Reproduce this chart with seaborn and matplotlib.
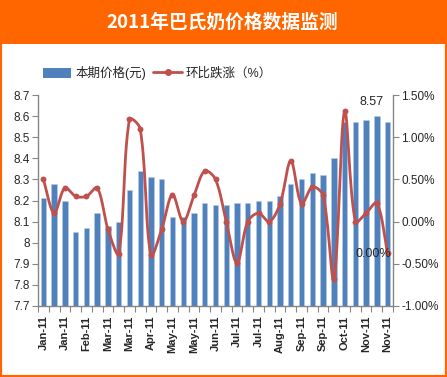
import numpy as np
import pandas as pd
import matplotlib.pyplot as plt
import seaborn as sns
from matplotlib.patches import Rectangle, Patch
from matplotlib.lines import Line2D

# weekly pasteurised milk price (yuan) and week-on-week change (%)
prices = [8.21, 8.28, 8.20, 8.05, 8.07, 8.14, 8.08, 8.10, 8.25, 8.34, 8.31,
          8.30, 8.12, 8.12, 8.14, 8.19, 8.18, 8.18, 8.19, 8.19, 8.20, 8.20,
          8.22, 8.28, 8.30, 8.33, 8.32, 8.40, 8.57, 8.57, 8.58, 8.60, 8.57]
changes = [0.50, 0.10, 0.40, 0.30, 0.30, 0.40, -0.09, -0.38, 1.21, 1.10, -0.40,
           -0.09, 0.32, 0.00, 0.31, 0.60, 0.50, 0.00, -0.49, 0.00, 0.10, 0.00,
           0.21, 0.72, 0.21, 0.41, 0.31, -0.68, 1.31, 0.00, 0.10, 0.22, -0.37]
tick_labels = ["Jan-11", "Jan-11", "Feb-11", "Mar-11", "Mar-11", "Apr-11",
               "May-11", "May-11", "Jun-11", "Jul-11", "Jul-11", "Aug-11",
               "Sep-11", "Sep-11", "Oct-11", "Nov-11", "Nov-11"]

sns.set_style("white")
plt.rcParams['font.family'] = ['Liberation Sans', 'Noto Sans CJK SC', 'DejaVu Sans']

orange = "#FF6600"
blue = "#4F81BD"
red = "#C0504D"
grey = "#868686"

n = len(prices)
idx = np.arange(n)
df = pd.DataFrame({"week": idx, "price": prices, "change": changes})

fig = plt.figure(figsize=(4.47, 3.77), dpi=100)
fig.patches.append(Rectangle((0, 0), 1, 1, transform=fig.transFigure,
                             fill=False, edgecolor=orange, linewidth=3, zorder=0))
fig.patches.append(Rectangle((0, 1 - 44 / 377), 1, 44 / 377, transform=fig.transFigure,
                             facecolor=orange, edgecolor="none", zorder=0))
fig.text(0.497, 1 - 22 / 377, "2011年巴氏奶价格数据监测", color="white", fontsize=13.5,
         fontweight="bold", ha="center", va="center",
         family=['Noto Sans CJK SC', 'DejaVu Sans'])

ax = fig.add_axes([38 / 447, 1 - 306 / 377, (393 - 38) / 447, (306 - 95) / 377])
sns.barplot(data=df, x="week", y="price", color=blue, width=0.5, ax=ax,
            saturation=1, edgecolor="#B8CCE4", linewidth=0.4)
ax.set_ylim(7.7, 8.7)
ax.set_yticks(np.arange(7.7, 8.71, 0.1))
ax.set_yticklabels([f"{v:g}" for v in np.round(np.arange(7.7, 8.71, 0.1), 1)], fontsize=8.5)
ax.set_xlim(-0.5, n - 0.5)
ax.set_xticks(np.arange(-0.5, n, 1))
ax.set_xticklabels([])
ax.set_xticks(np.arange(0, n, 2), minor=True)
ax.set_xticklabels(tick_labels, minor=True, rotation=90, fontsize=8, fontweight="bold")
ax.tick_params(axis="x", which="minor", length=0, pad=7)
ax.tick_params(axis="x", which="major", length=4, color=grey, direction="out", bottom=True)
ax.tick_params(axis="y", length=4, color=grey, direction="out", left=True, pad=2)
ax.set_xlabel("")
ax.set_ylabel("")
for s in ["top", "right"]:
    ax.spines[s].set_visible(False)
for s in ["left", "bottom"]:
    ax.spines[s].set_color(grey)
    ax.spines[s].set_linewidth(1)
ax.text(n - 2.5, 8.668, f"{prices[-1]:.2f}", ha="center", va="center", fontsize=9)

ax2 = ax.twinx()
# smoothed curve through the points (chord-scaled Bezier, like Excel's smoothed line),
# computed in approximate pixel space so overshoot looks right
px, py = 10.76, 84.0
P = np.column_stack([idx * px, np.array(changes) * py])
xs, ys = [], []
for i in range(n - 1):
    p0 = P[max(i - 1, 0)]
    p1 = P[i]
    p2 = P[i + 1]
    p3 = P[min(i + 2, n - 1)]
    d01 = np.hypot(*(p1 - p0))
    d12 = np.hypot(*(p2 - p1))
    d23 = np.hypot(*(p3 - p2))
    m1 = (p2 - p0) / max(d01 + d12, 1e-9)
    m2 = (p3 - p1) / max(d12 + d23, 1e-9)
    c1 = p1 + m1 * d12 / 3
    c2 = p2 - m2 * d12 / 3
    t = np.linspace(0, 1, 16, endpoint=False)[:, None]
    b = ((1 - t) ** 3) * p1 + 3 * ((1 - t) ** 2) * t * c1 + 3 * (1 - t) * t ** 2 * c2 + t ** 3 * p2
    xs.extend(b[:, 0] / px)
    ys.extend(b[:, 1] / py)
xs.append(idx[-1])
ys.append(changes[-1])
smooth = pd.DataFrame({"x": xs, "y": ys})
sns.lineplot(data=smooth, x="x", y="y", sort=False, color=red, linewidth=2, ax=ax2)
sns.scatterplot(data=df, x="week", y="change", color=red, s=18, edgecolor=red,
                linewidth=0, ax=ax2, zorder=3)
ax2.set_ylim(-1.0, 1.5)
ax2.set_yticks(np.arange(-1.0, 1.51, 0.5))
ax2.set_yticklabels([f"{v:.2f}%" for v in np.arange(-1.0, 1.51, 0.5)], fontsize=8.5)
ax2.set_xlim(-0.5, n - 0.5)
ax2.set_xlabel("")
ax2.set_ylabel("")
ax2.tick_params(axis="y", length=4, color=grey, direction="out", right=True, pad=2)
for s in ["top", "left", "bottom"]:
    ax2.spines[s].set_visible(False)
ax2.spines["right"].set_color(grey)
ax2.spines["right"].set_linewidth(1)
ax2.text(30.7, -0.38, "0.00%", ha="center", va="center", fontsize=9)

handles = [Patch(facecolor=blue, edgecolor="none"),
           Line2D([0], [0], color=red, linewidth=2, marker="o", markersize=4)]
fig.legend(handles, ["本期价格(元)", "环比跌涨（%）"], loc="center left",
           bbox_to_anchor=(0.07, 1 - 73 / 377), ncol=2, frameon=False, fontsize=9,
           handlelength=2.3, handleheight=0.9, columnspacing=0.6, handletextpad=0.3)

fig.savefig("out.png", dpi=100)
